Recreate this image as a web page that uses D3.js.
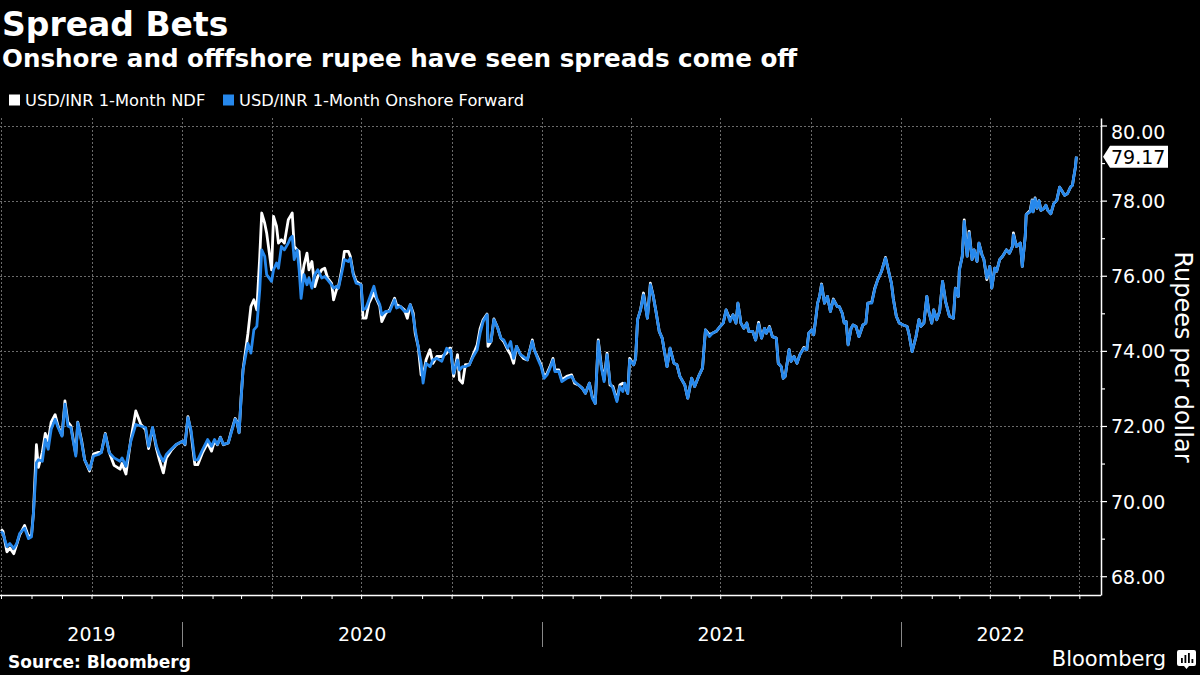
<!DOCTYPE html>
<html>
<head>
<meta charset="utf-8">
<script src="https://cdn.jsdelivr.net/npm/d3@7"></script>
<style>
  html, body { margin: 0; padding: 0; background: #000; }
  svg { display: block; }
  text { font-family: "DejaVu Sans", sans-serif; }
</style>
</head>
<body>
<svg id="chart"></svg>
<script>
// data (USD/INR, rupees per dollar)
const dates = [
  "2019-07-01","2019-07-03","2019-07-07","2019-07-10","2019-07-14","2019-07-17","2019-07-20","2019-07-25","2019-07-29","2019-08-01",
  "2019-08-03","2019-08-06","2019-08-08","2019-08-12","2019-08-15","2019-08-18","2019-08-21","2019-08-25","2019-08-28","2019-09-01",
  "2019-09-04","2019-09-07","2019-09-10","2019-09-15","2019-09-17","2019-09-21","2019-09-24","2019-09-29","2019-10-03","2019-10-08",
  "2019-10-11","2019-10-15","2019-10-19","2019-10-24","2019-10-30","2019-11-01","2019-11-05","2019-11-10","2019-11-15","2019-11-20",
  "2019-11-25","2019-11-28","2019-12-02","2019-12-06","2019-12-09","2019-12-13","2019-12-16","2019-12-21","2019-12-26","2020-01-02",
  "2020-01-04","2020-01-07","2020-01-10","2020-01-14","2020-01-17","2020-01-22","2020-01-27","2020-01-31","2020-02-03","2020-02-06",
  "2020-02-09","2020-02-12","2020-02-17","2020-02-20","2020-02-24","2020-02-26","2020-02-28","2020-03-01","2020-03-03","2020-03-08",
  "2020-03-11","2020-03-14","2020-03-17","2020-03-20","2020-03-22","2020-03-25","2020-03-27","2020-04-01","2020-04-03","2020-04-06",
  "2020-04-08","2020-04-11","2020-04-14","2020-04-18","2020-04-20","2020-04-22","2020-04-24","2020-04-27","2020-04-29","2020-05-01",
  "2020-05-04","2020-05-07","2020-05-09","2020-05-12","2020-05-15","2020-05-18","2020-05-22","2020-05-25","2020-05-28","2020-06-01",
  "2020-06-03","2020-06-06","2020-06-08","2020-06-12","2020-06-14","2020-06-18","2020-06-20","2020-06-23","2020-06-26","2020-07-01",
  "2020-07-03","2020-07-06","2020-07-09","2020-07-14","2020-07-17","2020-07-20","2020-07-22","2020-07-26","2020-07-30","2020-08-04",
  "2020-08-06","2020-08-10","2020-08-14","2020-08-17","2020-08-20","2020-08-23","2020-08-25","2020-08-28","2020-08-31","2020-09-02",
  "2020-09-05","2020-09-09","2020-09-12","2020-09-16","2020-09-21","2020-09-26","2020-09-29","2020-09-30","2020-10-03","2020-10-07",
  "2020-10-09","2020-10-12","2020-10-15","2020-10-19","2020-10-23","2020-10-27","2020-10-30","2020-11-02","2020-11-06","2020-11-07",
  "2020-11-10","2020-11-13","2020-11-17","2020-11-20","2020-11-23","2020-11-27","2020-11-30","2020-12-03","2020-12-06","2020-12-10",
  "2020-12-13","2020-12-17","2020-12-22","2020-12-24","2020-12-28","2020-12-31","2021-01-03","2021-01-06","2021-01-09","2021-01-12",
  "2021-01-14","2021-01-18","2021-01-21","2021-01-26","2021-01-31","2021-02-03","2021-02-07","2021-02-11","2021-02-14","2021-02-18",
  "2021-02-21","2021-02-24","2021-02-27","2021-03-02","2021-03-05","2021-03-08","2021-03-11","2021-03-14","2021-03-18","2021-03-21",
  "2021-03-24","2021-03-26","2021-03-29","2021-03-31","2021-04-04","2021-04-06","2021-04-08","2021-04-11","2021-04-14","2021-04-18",
  "2021-04-21","2021-04-24","2021-04-27","2021-04-30","2021-05-03","2021-05-05","2021-05-08","2021-05-11","2021-05-15","2021-05-18",
  "2021-05-21","2021-05-26","2021-05-29","2021-06-02","2021-06-05","2021-06-09","2021-06-13","2021-06-16","2021-06-20","2021-06-23",
  "2021-06-27","2021-07-01","2021-07-04","2021-07-07","2021-07-11","2021-07-14","2021-07-17","2021-07-19","2021-07-22","2021-07-25",
  "2021-07-28","2021-07-30","2021-08-03","2021-08-06","2021-08-09","2021-08-12","2021-08-15","2021-08-17","2021-08-20","2021-08-23",
  "2021-08-27","2021-08-29","2021-09-01","2021-09-03","2021-09-05","2021-09-09","2021-09-11","2021-09-14","2021-09-17","2021-09-20",
  "2021-09-24","2021-09-27","2021-09-29","2021-10-02","2021-10-04","2021-10-06","2021-10-08","2021-10-10","2021-10-12","2021-10-15",
  "2021-10-18","2021-10-21","2021-10-24","2021-10-28","2021-10-30","2021-11-02","2021-11-04","2021-11-06","2021-11-08","2021-11-11",
  "2021-11-13","2021-11-16","2021-11-19","2021-11-23","2021-11-26","2021-11-28","2021-12-02","2021-12-05","2021-12-08","2021-12-12",
  "2021-12-16","2021-12-18","2021-12-22","2021-12-24","2021-12-27","2021-12-30","2022-01-03","2022-01-07","2022-01-09","2022-01-12",
  "2022-01-16","2022-01-19","2022-01-21","2022-01-24","2022-01-27","2022-01-29","2022-02-01","2022-02-03","2022-02-06","2022-02-09",
  "2022-02-12","2022-02-15","2022-02-19","2022-02-23","2022-02-25","2022-02-28","2022-03-01","2022-03-04","2022-03-06","2022-03-09",
  "2022-03-11","2022-03-14","2022-03-16","2022-03-19","2022-03-21","2022-03-24","2022-03-26","2022-03-29","2022-04-01","2022-04-03",
  "2022-04-06","2022-04-08","2022-04-11","2022-04-14","2022-04-18","2022-04-21","2022-04-24","2022-04-25","2022-04-28","2022-05-02",
  "2022-05-04","2022-05-07","2022-05-08","2022-05-12","2022-05-14","2022-05-15","2022-05-17","2022-05-19","2022-05-21","2022-05-23",
  "2022-05-26","2022-05-28","2022-05-30","2022-06-02","2022-06-05","2022-06-08","2022-06-11","2022-06-14","2022-06-16","2022-06-19",
  "2022-06-22","2022-06-24","2022-06-25","2022-06-27","2022-06-28"
];

// USD/INR 1-Month NDF (offshore)
const ndf = [
  69.25,69.2,68.65,68.75,68.6,68.85,69.1,69.35,69.05,69.1,
  69.7,71.5,70.9,71.3,71.8,71.6,72.1,72.3,72.0,71.75,
  72.67,72.1,72.0,71.25,72.1,71.6,71.1,70.8,71.25,71.3,
  71.3,71.8,71.3,70.95,70.85,71.0,70.72,71.65,72.4,72.05,
  71.9,71.4,71.95,71.4,71.1,70.75,71.15,71.35,71.5,71.6,
  71.5,72.25,71.85,70.97,70.97,71.3,71.55,71.33,71.6,71.5,
  71.7,71.5,71.55,71.85,72.2,72.1,71.82,72.75,73.5,74.47,
  75.18,75.36,75.09,76.52,77.67,77.4,77.14,76.16,77.58,77.32,
  76.87,76.96,76.87,77.49,77.58,77.67,76.78,76.69,76.65,75.8,
  76.29,76.6,76.16,76.38,75.71,75.98,76.16,76.2,75.94,75.8,
  75.36,75.63,75.71,76.25,76.65,76.65,76.52,76.07,75.85,75.76,
  74.87,74.87,75.27,75.54,75.36,75.18,74.78,75.0,75.09,75.4,
  75.23,75.18,75.09,74.87,75.23,75.0,74.47,74.12,73.36,73.32,
  73.76,74.03,73.67,73.85,73.85,73.94,74.07,74.07,73.32,73.9,
  73.23,73.14,73.63,73.63,73.9,74.16,74.6,74.83,74.98,74.12,
  74.25,74.85,74.6,74.34,74.25,74.03,73.9,73.67,74.12,73.9,
  73.8,73.76,74.29,74.03,73.8,73.63,73.32,73.4,73.58,73.8,
  73.49,73.49,73.23,73.32,73.36,73.14,73.09,73.0,72.87,73.14,
  72.78,72.6,74.29,73.63,73.23,73.94,73.09,73.05,72.69,73.09,
  73.14,73.09,72.87,73.8,73.63,73.8,74.83,75.09,75.54,74.87,
  75.8,75.45,75.0,74.52,74.34,74.03,73.58,74.07,73.67,73.63,
  73.32,73.09,72.74,73.27,73.05,73.32,73.54,74.56,74.43,74.47,
  74.52,74.65,74.74,75.09,74.83,74.96,74.74,75.27,74.74,74.6,
  74.74,74.52,74.52,74.29,74.76,74.34,74.6,74.47,74.65,74.38,
  74.34,73.67,73.58,73.27,73.32,74.03,73.72,73.85,73.67,73.9,
  74.09,74.03,74.47,74.56,74.43,74.83,75.27,75.45,75.78,75.27,
  75.45,75.05,75.38,75.18,75.18,75.0,74.74,74.78,74.16,74.6,
  74.69,74.65,74.38,74.69,74.74,75.27,75.29,75.66,75.89,76.12,
  76.49,76.25,75.8,75.38,74.92,74.74,74.69,74.65,74.43,73.98,
  74.38,74.83,74.65,74.74,75.45,75.05,74.74,75.09,74.83,75.05,
  75.85,75.32,74.92,74.87,75.67,75.45,76.16,76.52,77.49,76.52,
  77.18,76.43,76.69,76.38,76.87,76.56,76.43,75.9,76.25,75.67,
  76.2,76.12,76.43,76.52,76.69,76.6,76.78,77.14,76.78,76.87,
  76.25,77.05,77.63,77.74,78.02,77.7,78.07,77.79,78.0,77.74,
  77.79,77.88,77.74,77.65,77.92,78.0,78.36,78.23,78.14,78.19,
  78.36,78.41,78.58,78.89,79.17
];

// USD/INR 1-Month Onshore Forward
const onshore = [
  69.19,69.14,68.79,68.87,68.74,68.87,69.14,69.28,69.0,69.05,
  69.68,71.02,71.1,71.06,71.64,71.38,71.91,72.18,71.96,71.73,
  72.58,72.0,71.96,71.2,72.09,71.55,71.1,70.84,71.2,71.24,
  71.29,71.78,71.29,71.15,71.06,71.15,70.93,71.6,72.04,72.0,
  71.96,71.46,71.96,71.46,71.24,71.06,71.24,71.38,71.51,71.6,
  71.51,72.22,71.91,71.1,71.1,71.38,71.64,71.46,71.64,71.51,
  71.69,71.51,71.55,71.82,72.18,72.09,71.82,72.71,73.49,74.2,
  73.94,74.56,74.65,75.63,76.69,76.52,76.03,75.85,76.16,76.34,
  76.2,76.78,76.69,76.87,77.0,77.05,76.43,76.69,76.16,75.4,
  76.03,75.76,75.94,75.67,76.03,76.16,75.94,75.98,75.89,75.76,
  75.67,75.72,75.67,76.16,76.43,76.38,76.47,76.03,75.8,75.76,
  75.09,75.14,75.36,75.72,75.4,75.23,74.96,75.05,75.05,75.36,
  75.14,75.18,75.05,75.05,75.23,74.92,74.56,74.12,73.67,73.14,
  73.67,73.58,73.76,73.8,73.72,74.07,73.98,74.03,73.4,73.76,
  73.49,73.58,73.58,73.63,73.85,74.03,74.47,74.78,74.96,74.25,
  74.25,74.83,74.6,74.34,74.29,74.07,74.25,73.8,74.12,73.9,
  73.85,73.76,74.25,74.03,73.76,73.58,73.27,73.36,73.54,73.76,
  73.45,73.45,73.18,73.27,73.32,73.18,73.09,73.0,72.87,73.14,
  72.74,72.6,74.25,73.58,73.18,73.9,73.14,73.0,72.65,73.05,
  72.92,73.14,72.87,73.76,73.63,73.8,74.83,75.09,75.49,74.87,
  75.76,75.45,75.0,74.52,74.34,74.03,73.58,74.07,73.67,73.63,
  73.32,73.09,72.74,73.27,73.05,73.32,73.54,74.56,74.38,74.47,
  74.52,74.65,74.74,75.09,74.78,74.96,74.74,75.27,74.74,74.6,
  74.74,74.52,74.52,74.29,74.72,74.34,74.6,74.47,74.63,74.38,
  74.34,73.67,73.58,73.27,73.32,74.03,73.72,73.85,73.67,73.9,
  74.07,74.03,74.47,74.56,74.43,74.83,75.27,75.45,75.76,75.27,
  75.45,75.05,75.36,75.18,75.18,75.0,74.74,74.78,74.16,74.6,
  74.69,74.65,74.38,74.69,74.74,75.27,75.27,75.63,75.89,76.12,
  76.47,76.25,75.8,75.36,74.92,74.74,74.69,74.65,74.43,73.98,
  74.38,74.83,74.65,74.74,75.45,75.05,74.74,75.09,74.83,75.05,
  75.85,75.32,74.92,74.87,75.67,75.45,76.12,76.52,77.45,76.52,
  77.14,76.43,76.69,76.38,76.87,76.56,76.43,75.94,76.25,75.67,
  76.2,76.12,76.43,76.52,76.69,76.6,76.78,77.09,76.78,76.87,
  76.25,77.05,77.63,77.7,78.0,77.7,78.05,77.79,78.0,77.74,
  77.79,77.88,77.74,77.65,77.92,78.0,78.36,78.23,78.14,78.19,
  78.36,78.41,78.58,78.89,79.17
];

const seriesNames = ["USD/INR 1-Month NDF", "USD/INR 1-Month Onshore Forward"];
const seriesColors = ["#ffffff", "#2688ec"];
const yTicks = d3.range(68, 81, 1);
const years = [2019, 2020, 2021, 2022];
const lastLabel = "79.17";

const width = 1200, height = 675;
const plot = { left: 0, right: 1101, top: 118, bottom: 595 };

const svg = d3.select("#chart")
  .attr("width", width)
  .attr("height", height)
  .style("background", "#000");

const parse = d3.utcParse("%Y-%m-%d");
const rows = dates.map((d, i) => ({ date: parse(d), ndf: ndf[i], onshore: onshore[i] }));

const x = d3.scaleUtc()
  .domain([new Date(Date.UTC(2019, 6, 1)), new Date(Date.UTC(2022, 6, 22))])
  .range([1, plot.right - 1]);

const y = d3.scaleLinear()
  .domain([67.5, 80.2])
  .range([plot.bottom, plot.top]);

/////// TITLES ///////
svg.append("text")
  .attr("x", 2).attr("y", 36)
  .attr("fill", "#fff")
  .style("font-size", "33px").style("font-weight", "bold")
  .text("Spread Bets");

svg.append("text")
  .attr("x", 2).attr("y", 67)
  .attr("fill", "#fff")
  .style("font-size", "24.6px").style("font-weight", "bold")
  .text("Onshore and offfshore rupee have seen spreads come off");

// legend
const legendX = [9, 223];
seriesNames.forEach((name, i) => {
  svg.append("rect")
    .attr("x", legendX[i]).attr("y", 94.5)
    .attr("width", 11).attr("height", 11)
    .attr("fill", seriesColors[i]);
  svg.append("text")
    .attr("x", legendX[i] + 16).attr("y", 100)
    .attr("dominant-baseline", "central")
    .attr("fill", "#fff")
    .style("font-size", "16.3px")
    .text(name);
});

/////// GRID ///////
const grid = svg.append("g").attr("stroke", "#6a6a6a").attr("stroke-dasharray", "2,2").attr("stroke-width", 1);

grid.selectAll("line.h")
  .data(yTicks.filter(v => v % 2 === 0))
  .enter().append("line")
  .attr("x1", plot.left).attr("x2", plot.right)
  .attr("y1", d => Math.round(y(d)) + 0.5).attr("y2", d => Math.round(y(d)) + 0.5);

grid.selectAll("line.v")
  .data(d3.utcMonth.every(3).range(x.domain()[0], x.domain()[1]))
  .enter().append("line")
  .attr("x1", d => Math.round(x(d)) + 0.5).attr("x2", d => Math.round(x(d)) + 0.5)
  .attr("y1", plot.top).attr("y2", plot.bottom);

/////// LINES ///////
const lineNdf = d3.line().x(d => x(d.date)).y(d => y(d.ndf));
const lineOn = d3.line().x(d => x(d.date)).y(d => y(d.onshore));

svg.append("path")
  .datum(rows)
  .attr("d", lineNdf)
  .attr("fill", "none")
  .attr("stroke", seriesColors[0])
  .attr("stroke-width", 2.8)
  .attr("stroke-linejoin", "round");

svg.append("path")
  .datum(rows)
  .attr("d", lineOn)
  .attr("fill", "none")
  .attr("stroke", seriesColors[1])
  .attr("stroke-width", 2.8)
  .attr("stroke-linejoin", "round");

/////// AXES ///////
const yAxis = svg.append("g")
  .attr("transform", `translate(${plot.right},0)`)
  .call(d3.axisRight(y)
    .tickValues(yTicks)
    .tickSize(6)
    .tickSizeOuter(0)
    .tickPadding(4)
    .tickFormat(d => d % 2 === 0 ? d3.format(".2f")(d) : ""));

yAxis.select(".domain").attr("stroke", "#fff").attr("stroke-width", 1.5);
yAxis.selectAll(".tick line").attr("stroke", "#fff").attr("stroke-width", 1.2)
  .attr("x2", d => d % 2 === 0 ? 6 : 4);
yAxis.selectAll(".tick text")
  .attr("fill", "#fff")
  .style("font-family", "DejaVu Sans")
  .style("font-size", "19px")
  .attr("dy", d => (y(d) < plot.top + 10 ? 7 : 1) + 6 + "px");

const xAxis = svg.append("g")
  .attr("transform", `translate(0,${plot.bottom})`)
  .call(d3.axisBottom(x)
    .ticks(d3.utcMonth.every(1))
    .tickSize(4)
    .tickSizeOuter(0)
    .tickFormat(""));
xAxis.select(".domain").attr("stroke", "#fff").attr("stroke-width", 1.5)
  .attr("d", `M${plot.left},0.5H${plot.right}`);
xAxis.selectAll(".tick line").attr("stroke", "#fff");

// year bands
const xMin = x.domain()[0], xMax = x.domain()[1];
years.forEach(yr => {
  const s = new Date(Date.UTC(yr, 0, 1)), e = new Date(Date.UTC(yr + 1, 0, 1));
  const a = x(s < xMin ? xMin : s), b = x(e > xMax ? xMax : e);
  svg.append("text")
    .attr("x", (a + b) / 2).attr("y", 634)
    .attr("text-anchor", "middle")
    .attr("dominant-baseline", "central")
    .attr("fill", "#fff")
    .style("font-size", "19px")
    .text(yr);
  if (s > xMin) {
    svg.append("line")
      .attr("x1", Math.round(x(s)) + 0.5).attr("x2", Math.round(x(s)) + 0.5)
      .attr("y1", 622).attr("y2", 647)
      .attr("stroke", "#888").attr("stroke-width", 1);
  }
});

// y axis title
svg.append("text")
  .attr("transform", "translate(1175,357)rotate(90)")
  .attr("text-anchor", "middle")
  .attr("fill", "#fff")
  .style("font-size", "24px")
  .text("Rupees per dollar");

// last value tag
const ly = y(onshore[onshore.length - 1]);
svg.append("path")
  .attr("d", `M${plot.right + 2},${ly} L${plot.right + 9},${ly - 11} H1168 V${ly + 11} H${plot.right + 9} Z`)
  .attr("fill", "#fff");
svg.append("text")
  .attr("x", 1111).attr("y", ly)
  .attr("dominant-baseline", "central")
  .attr("fill", "#000")
  .style("font-size", "19px")
  .text(lastLabel);

/////// FOOTER ///////
svg.append("text")
  .attr("x", 8).attr("y", 668)
  .attr("fill", "#fff")
  .style("font-size", "17px").style("font-weight", "bold")
  .text("Source: Bloomberg");

svg.append("text")
  .attr("x", 1166).attr("y", 666)
  .attr("text-anchor", "end")
  .attr("fill", "#fff")
  .style("font-size", "21px").style("font-weight", "500")
  .text("Bloomberg");

// little logo mark
const logo = svg.append("g").attr("transform", "translate(1177,650)");
logo.append("path")
  .attr("d", "M2,0 H17 Q19,0 19,2 V14 Q19,16 17,16 H12 L9.5,19 L7,16 H2 Q0,16 0,14 V2 Q0,0 2,0 Z")
  .attr("fill", "#fff");
[[4, 8, 5], [7.5, 5, 8], [11, 3, 10], [14.5, 9, 4]].forEach(b => {
  logo.append("rect").attr("x", b[0]).attr("y", b[1]).attr("width", 1.8).attr("height", b[2]).attr("fill", "#000");
});
</script>
</body>
</html>
